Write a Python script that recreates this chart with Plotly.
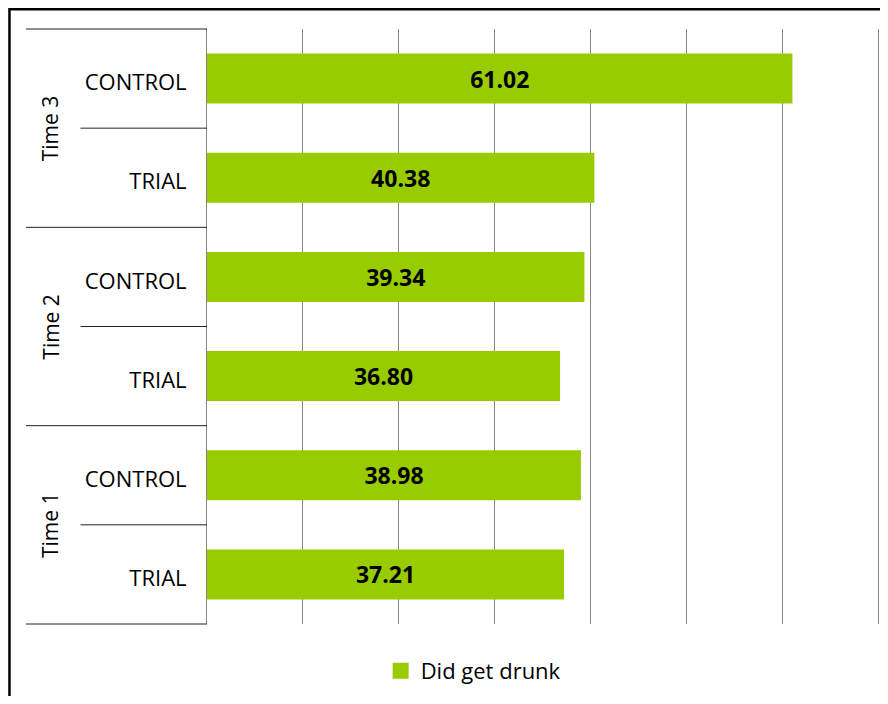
import plotly.graph_objects as go

# bottom to top
groups = ['Time 1', 'Time 1', 'Time 2', 'Time 2', 'Time 3', 'Time 3']
arms = ['TRIAL', 'CONTROL', 'TRIAL', 'CONTROL', 'TRIAL', 'CONTROL']
did_get_drunk = [37.21, 38.98, 36.80, 39.34, 40.38, 61.02]
group_names = ['Time 1', 'Time 2', 'Time 3']

font_name = 'Open Sans'
bar_color = '#99cc00'
grid_color = '#868686'

rows = list(range(len(arms)))
n = len(rows)

fig = go.Figure()
fig.add_trace(go.Bar(y=rows, x=did_get_drunk, orientation='h', name='Did get drunk', showlegend=False,
                     marker={'color': bar_color, 'line': {'width': 0}},
                     texttemplate='<b>%{x:.2f}</b>', textposition='inside', insidetextanchor='middle',
                     textfont=dict(family=font_name, size=23, color='black'), textangle=0))
# legend entry with a bigger square swatch
fig.add_trace(go.Scatter(x=[None], y=[None], mode='markers', name='Did get drunk',
                         marker=dict(symbol='square', size=16, color=bar_color)))


def py(v):
    # data row position -> paper y
    return (v + 0.5) / n


shapes = []
# outer frame of the chart
shapes.append(dict(type='rect', xref='paper', yref='paper', x0=-0.2935, x1=1.2, y0=1.0333, y1=-0.3,
                   line=dict(color='black', width=2.5)))
# group dividers on the left
for g in range(len(group_names) + 1):
    y = py(g * 2 - 0.5)
    shapes.append(dict(type='line', xref='paper', yref='paper', x0=-0.269, x1=0, y0=y, y1=y,
                       line=dict(color='#222222', width=1)))
# row dividers inside each group
for g in range(len(group_names)):
    y = py(g * 2 + 0.5)
    shapes.append(dict(type='line', xref='paper', yref='paper', x0=-0.188, x1=0, y0=y, y1=y,
                       line=dict(color='#222222', width=1)))

annotations = []
for g, name in enumerate(group_names):
    annotations.append(dict(text=name, xref='paper', yref='paper', x=-0.233, y=py(g * 2 + 0.5),
                            showarrow=False, textangle=-90, xanchor='center', yanchor='middle',
                            font=dict(family=font_name, size=21, color='black')))

fig.update_layout(width=872, height=688, margin=dict(l=199, r=0, t=21, b=72),
                  paper_bgcolor='white', plot_bgcolor='white',
                  font=dict(family=font_name, size=22, color='black'),
                  bargap=0.495, showlegend=True,
                  legend=dict(orientation='h', x=0.258, y=-0.079, xanchor='left', yanchor='middle',
                              font=dict(family=font_name, size=22, color='black')),
                  shapes=shapes, annotations=annotations)
fig.update_xaxes(range=[0, 70.15], tickvals=[0, 10, 20, 30, 40, 50, 60, 70], showgrid=True,
                 gridcolor=grid_color, gridwidth=1, showticklabels=False, zeroline=False, showline=False)
fig.update_yaxes(range=[-0.5, n - 0.5], tickvals=rows, ticktext=arms, showgrid=False, zeroline=False,
                 showline=True, linecolor=grid_color, linewidth=1, ticks='', ticklabelstandoff=15,
                 ticklabelshift=4, tickfont=dict(family=font_name, size=22, color='black'))

fig.write_html('out.html')
